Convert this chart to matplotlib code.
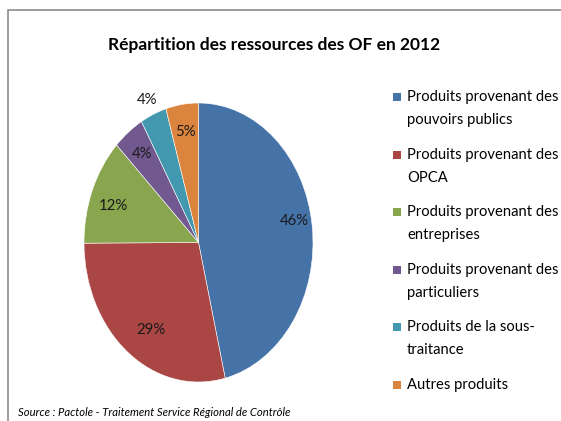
import matplotlib.pyplot as plt
from matplotlib.patches import Rectangle

plt.rcParams['font.family'] = ['Lato', 'DejaVu Sans']

labels = ["Produits provenant des\npouvoirs publics",
          "Produits provenant des\nOPCA",
          "Produits provenant des\nentreprises",
          "Produits provenant des\nparticuliers",
          "Produits de la sous-\ntraitance",
          "Autres produits"]
values = [46.3, 28.7, 12.4, 4.4, 3.7, 4.6]
colors = ["#4572A7", "#AA4643", "#89A54E", "#71588F", "#4198AF", "#DB843D"]

W, H = 561, 421
fig = plt.figure(figsize=(W / 100, H / 100), dpi=100)

# chart frame
fig.patches.append(Rectangle((8 / W, -0.02), 1.0, 1 - 10 / H + 0.02,
                             transform=fig.transFigure, fill=False,
                             edgecolor="#8c8c8c", lw=1.2))

ax = fig.add_axes([84 / W, 1 - 382 / H, 229 / W, 279 / H])
wedges, texts, autotexts = ax.pie(values, colors=colors, startangle=90,
                                  counterclock=False, autopct='%.0f%%',
                                  pctdistance=0.8, radius=1,
                                  wedgeprops=dict(edgecolor="white", lw=0.4),
                                  textprops=dict(fontsize=10.8, color="#1a1a1a"))
ax.set_aspect('auto')
ax.set_xlim(-1, 1)
ax.set_ylim(-1, 1)

# nudge labels a bit like excel does
x, y = autotexts[0].get_position()
autotexts[0].set_position((x + 0.04, y + 0.06))
x, y = autotexts[1].get_position()
autotexts[1].set_position((x + 0.08, y))
x, y = autotexts[2].get_position()
autotexts[2].set_position((x, y - 0.04))
# teal label sits outside the pie
x, y = autotexts[4].get_position()
autotexts[4].set_position((x * 1.42, y * 1.42 - 0.02))

fig.text(274 / W, 1 - 45 / H, "Répartition des ressources des OF en 2012",
         ha="center", va="center", fontsize=12.5, fontweight="bold")

# legend, square next to the first line of each entry
row_y = 97
for lab, col in zip(labels, colors):
    fig.patches.append(Rectangle((393 / W, 1 - (row_y + 4) / H), 8 / W, 8 / H,
                                 transform=fig.transFigure, facecolor=col,
                                 edgecolor="none"))
    for i, line in enumerate(lab.split("\n")):
        fig.text(407 / W, 1 - (row_y + i * 23) / H, line, ha="left",
                 va="center", fontsize=10.6)
    row_y += 57.6

fig.text(18 / W, 1 - 412 / H, "Source : Pactole - Traitement Service Régional de Contrôle",
         ha="left", va="center", fontsize=8.1, style="italic")

fig.savefig("out.png", dpi=100)
